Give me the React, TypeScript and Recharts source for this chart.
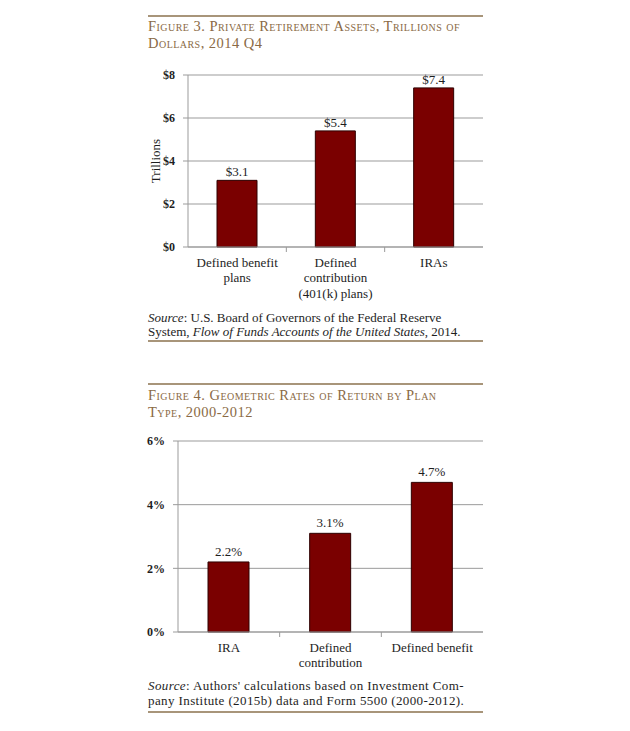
import React from "react";
import { BarChart, Bar, XAxis, YAxis, CartesianGrid, LabelList } from "recharts";

// Figure 3: private retirement assets, trillions of dollars
const assetCategories = [
  "Defined benefit\nplans",
  "Defined\ncontribution\n(401(k) plans)",
  "IRAs",
];
const assetValues = [3.1, 5.4, 7.4];
const assetTicks = [0, 2, 4, 6, 8];

// Figure 4: geometric rates of return by plan type
const returnCategories = ["IRA", "Defined\ncontribution", "Defined benefit"];
const returnValues = [2.2, 3.1, 4.7];
const returnTicks = [0, 2, 4, 6];

const assetData = assetCategories.map((name, i) => ({ name, value: assetValues[i] }));
const returnData = returnCategories.map((name, i) => ({ name, value: returnValues[i] }));

const SERIF = "'Liberation Serif', 'DejaVu Serif', serif";
const GRID = "#9b9b9b";
const BAR_FILL = "#7a0000";
const BAR_STROKE = "#2e0000";
const TITLE = "#8a6a45";
const RULE = "#a8957a";
const TEXT = "#1e1e1e";

const CategoryTick = (props: any) => {
  const { x, y, payload, index, step } = props;
  const lines = String(payload.value).split("\n");
  return (
    <g>
      {index > 0 && (
        <line x1={x - step / 2} x2={x - step / 2} y1={y} y2={y + 5} stroke={GRID} />
      )}
      <text x={x} y={y} textAnchor="middle" fontSize={13} fill={TEXT} fontFamily={SERIF}>
        {lines.map((l, i) => (
          <tspan key={i} x={x} dy={i === 0 ? 19.5 : 15.5}>
            {l}
          </tspan>
        ))}
      </text>
    </g>
  );
};

const yTickStyle = { fontSize: 12, fontWeight: 700, fill: TEXT, fontFamily: SERIF };
const valueStyle = { fontSize: 13, fill: TEXT, fontFamily: SERIF };

const Rule = ({ top }: { top: number }) => (
  <div style={{ position: "absolute", left: 148, top, width: 335, height: 2, background: RULE }} />
);

const Title = ({ top, lines }: { top: number; lines: string[] }) => (
  <div
    style={{
      position: "absolute",
      left: 148,
      top,
      fontSize: 14.5,
      lineHeight: "17px",
      color: TITLE,
      fontVariant: "small-caps",
      letterSpacing: 0.47,
      whiteSpace: "nowrap",
    }}
  >
    {lines.map((l, i) => (
      <div key={i}>{l}</div>
    ))}
  </div>
);

const App = () => {
  return (
    <div
      style={{
        position: "absolute",
        left: 0,
        top: 0,
        width: 630,
        height: 731,
        background: "#fff",
        fontFamily: SERIF,
      }}
    >
      <Rule top={15} />
      <Title
        top={18}
        lines={["Figure 3. Private Retirement Assets, Trillions of", "Dollars, 2014 Q4"]}
      />

      <div style={{ position: "absolute", left: 130, top: 60 }}>
        <BarChart
          width={360}
          height={247}
          data={assetData}
          margin={{ top: 15, right: 7, left: 0, bottom: 0 }}
        >
          <CartesianGrid vertical={false} stroke={GRID} />
          <XAxis
            dataKey="name"
            height={60}
            tickLine={false}
            tickSize={0}
            tickMargin={0}
            interval={0}
            axisLine={{ stroke: GRID }}
            tick={(p: any) => <CategoryTick {...p} step={295 / 3} />}
          />
          <YAxis
            width={58}
            domain={[0, 8]}
            ticks={assetTicks}
            tickSize={5}
            tickMargin={8}
            tickLine={{ stroke: GRID }}
            axisLine={{ stroke: GRID }}
            tick={yTickStyle}
            tickFormatter={(v: number) => `$${v}`}
            label={{
              content: (lp: any) => {
                const vb = lp.viewBox;
                const cx = vb.x + 25;
                const cy = vb.y + vb.height / 2;
                return (
                  <text
                    x={cx}
                    y={cy}
                    transform={`rotate(-90, ${cx}, ${cy})`}
                    textAnchor="middle"
                    dominantBaseline="central"
                    fontSize={13}
                    fill={TEXT}
                    fontFamily={SERIF}
                  >
                    Trillions
                  </text>
                );
              },
            }}
          />
          <Bar
            dataKey="value"
            fill={BAR_FILL}
            stroke={BAR_STROKE}
            strokeWidth={1}
            barSize={40}
            isAnimationActive={false}
          >
            <LabelList
              dataKey="value"
              position="top"
              offset={4}
              style={valueStyle}
              formatter={(v: any) => `$${Number(v).toFixed(1)}`}
            />
          </Bar>
        </BarChart>
      </div>

      <div
        style={{
          position: "absolute",
          left: 148,
          top: 311,
          fontSize: 13,
          lineHeight: "14px",
          color: TEXT,
          whiteSpace: "nowrap",
        }}
      >
        <div>
          <i>Source</i>: U.S. Board of Governors of the Federal Reserve
        </div>
        <div>
          System, <i>Flow of Funds Accounts of the United States</i>, 2014.
        </div>
      </div>
      <Rule top={340} />

      <Rule top={383} />
      <Title
        top={387}
        lines={["Figure 4. Geometric Rates of Return by Plan", "Type, 2000-2012"]}
      />

      <div style={{ position: "absolute", left: 120, top: 426 }}>
        <BarChart
          width={370}
          height={266}
          data={returnData}
          margin={{ top: 15, right: 7, left: 0, bottom: 0 }}
        >
          <CartesianGrid vertical={false} stroke={GRID} />
          <XAxis
            dataKey="name"
            height={60}
            tickLine={false}
            tickSize={0}
            tickMargin={0}
            interval={0}
            axisLine={{ stroke: GRID }}
            tick={(p: any) => <CategoryTick {...p} step={305 / 3} />}
          />
          <YAxis
            width={58}
            domain={[0, 6]}
            ticks={returnTicks}
            tickSize={5}
            tickMargin={8}
            tickLine={{ stroke: GRID }}
            axisLine={{ stroke: GRID }}
            tick={yTickStyle}
            tickFormatter={(v: number) => `${v}%`}
          />
          <Bar
            dataKey="value"
            fill={BAR_FILL}
            stroke={BAR_STROKE}
            strokeWidth={1}
            barSize={41}
            isAnimationActive={false}
          >
            <LabelList
              dataKey="value"
              position="top"
              offset={6}
              style={valueStyle}
              formatter={(v: any) => `${Number(v).toFixed(1)}%`}
            />
          </Bar>
        </BarChart>
      </div>

      <div
        style={{
          position: "absolute",
          left: 148,
          top: 679,
          fontSize: 13,
          lineHeight: "14.5px",
          color: TEXT,
          letterSpacing: 0.4,
          whiteSpace: "nowrap",
        }}
      >
        <div>
          <i>Source</i>: Authors' calculations based on Investment Com-
        </div>
        <div>pany Institute (2015b) data and Form 5500 (2000-2012).</div>
      </div>
      <Rule top={711} />
    </div>
  );
};

export default App;
